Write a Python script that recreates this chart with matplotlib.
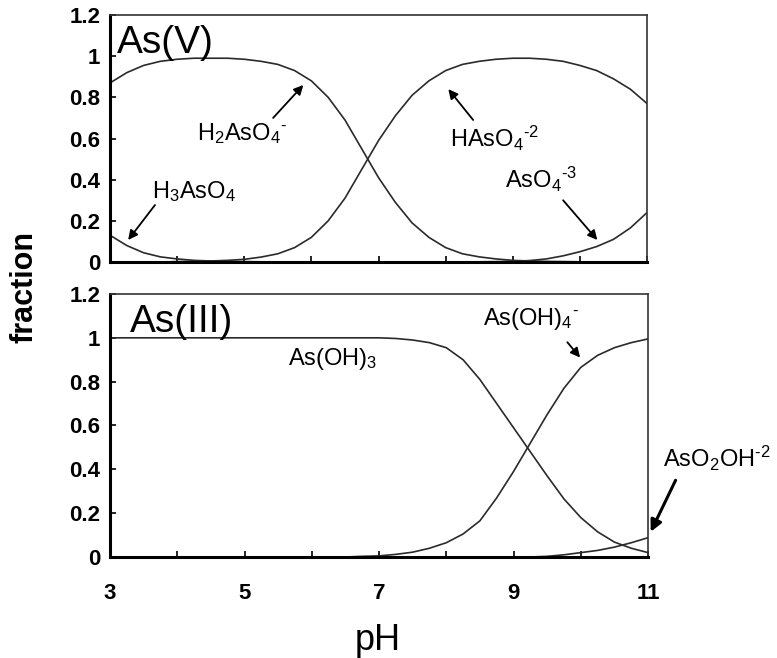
import matplotlib
matplotlib.use("Agg")
import matplotlib.pyplot as plt

plt.rcParams['font.family'] = ['Liberation Sans', 'DejaVu Sans']
plt.rcParams['mathtext.fontset'] = 'custom'
plt.rcParams['mathtext.rm'] = 'Liberation Sans'
plt.rcParams['mathtext.it'] = 'Liberation Sans:italic'
plt.rcParams['mathtext.default'] = 'rm'

# pH grid (every 0.25)
ph = [3.0, 3.25, 3.5, 3.75, 4.0, 4.25, 4.5, 4.75, 5.0, 5.25, 5.5, 5.75, 6.0,
      6.25, 6.5, 6.75, 7.0, 7.25, 7.5, 7.75, 8.0, 8.25, 8.5, 8.75, 9.0, 9.25,
      9.5, 9.75, 10.0, 10.25, 10.5, 10.75, 11.0]

# As(V) species
h3aso4 = [0.13, 0.08, 0.045, 0.025, 0.015, 0.008, 0.005, 0.003, 0.002, 0.001,
          0, 0, 0, 0, 0, 0, 0, 0, 0, 0, 0, 0, 0, 0, 0, 0, 0, 0, 0, 0, 0, 0, 0]
h2aso4 = [0.87, 0.92, 0.955, 0.975, 0.985, 0.99, 0.99, 0.99, 0.985, 0.975,
          0.96, 0.93, 0.88, 0.80, 0.69, 0.55, 0.41, 0.29, 0.19, 0.12, 0.07,
          0.04, 0.025, 0.015, 0.008, 0.005, 0.003, 0.002, 0.001, 0, 0, 0, 0]
haso4 = [0, 0, 0, 0, 0.002, 0.003, 0.005, 0.008, 0.013, 0.024, 0.04, 0.07,
         0.12, 0.20, 0.31, 0.45, 0.59, 0.71, 0.81, 0.88, 0.93, 0.96, 0.975,
         0.985, 0.99, 0.99, 0.985, 0.975, 0.955, 0.93, 0.89, 0.84, 0.77]
aso4 = [0, 0, 0, 0, 0, 0, 0, 0, 0, 0, 0, 0, 0, 0, 0, 0, 0, 0, 0, 0, 0, 0,
        0.001, 0.002, 0.003, 0.007, 0.015, 0.03, 0.05, 0.075, 0.11, 0.165, 0.24]

# As(III) species
as_oh3 = [1.0, 1.0, 1.0, 1.0, 1.0, 1.0, 1.0, 1.0, 1.0, 1.0, 1.0, 1.0, 1.0,
          1.0, 1.0, 1.0, 1.0, 0.997, 0.99, 0.978, 0.955, 0.90, 0.81, 0.70,
          0.59, 0.48, 0.37, 0.265, 0.18, 0.115, 0.068, 0.04, 0.02]
as_oh4 = [0, 0, 0, 0, 0, 0, 0, 0, 0, 0, 0, 0, 0, 0, 0, 0.003, 0.005, 0.012,
          0.022, 0.04, 0.065, 0.105, 0.165, 0.27, 0.39, 0.52, 0.65, 0.77, 0.865,
          0.92, 0.955, 0.978, 0.995]
aso2oh = [0, 0, 0, 0, 0, 0, 0, 0, 0, 0, 0, 0, 0, 0, 0, 0, 0, 0, 0, 0, 0, 0,
          0, 0, 0, 0, 0.003, 0.01, 0.02, 0.03, 0.045, 0.065, 0.088]

yticks = [0, 0.2, 0.4, 0.6, 0.8, 1.0, 1.2]
ytick_labels = ['0', '0.2', '0.4', '0.6', '0.8', '1', '1.2']
xticks = [3, 5, 7, 9, 11]

fig = plt.figure(figsize=(7.77, 6.58), dpi=100)
ax1 = fig.add_axes([0.1416, 0.6018, 0.6911, 0.3754])
ax2 = fig.add_axes([0.1416, 0.1535, 0.6924, 0.3997])

lc = '#2a2a2a'
arrow = dict(arrowstyle='-|>', color='k', lw=1.3, mutation_scale=14,
             shrinkA=0, shrinkB=0)

for ax in (ax1, ax2):
    ax.set_xlim(3, 11)
    ax.set_ylim(0, 1.2)
    ax.set_yticks(yticks)
    ax.set_yticklabels(ytick_labels)
    ax.set_xticks(xticks)
    ax.set_xticks([4, 6, 8, 10], minor=True)
    ax.tick_params(axis='both', which='both', direction='in', length=4,
                   width=1.2, labelsize=16)
    ax.tick_params(axis='x', pad=19)
    ax.tick_params(axis='y', pad=7)
    for lab in ax.get_xticklabels() + ax.get_yticklabels():
        lab.set_fontweight('bold')
    for side in ('left', 'bottom'):
        ax.spines[side].set_linewidth(2.2)
    for side in ('top', 'right'):
        ax.spines[side].set_linewidth(1.2)
        ax.spines[side].set_color('#333333')

ax1.tick_params(axis='x', labelbottom=False)

# As(V) panel
for s in (h3aso4, h2aso4, haso4, aso4):
    ax1.plot(ph, s, color=lc, lw=1.2)
ax1.text(3.1, 1.015, 'As(V)', fontsize=28, ha='left', va='baseline')
ax1.text(4.3, 0.59, r'H$_2$AsO$_4$$^{\text{-}}$', fontsize=17, va='baseline')
ax1.annotate('', xy=(5.88, 0.86), xytext=(5.43, 0.70), arrowprops=arrow)
ax1.text(3.63, 0.31, r'H$_3$AsO$_4$', fontsize=17, va='baseline')
ax1.annotate('', xy=(3.27, 0.107), xytext=(3.67, 0.277), arrowprops=arrow)
ax1.text(8.07, 0.56, r'HAsO$_4$$^{\text{-2}}$', fontsize=17, va='baseline')
ax1.annotate('', xy=(8.04, 0.84), xytext=(8.41, 0.69), arrowprops=arrow)
ax1.text(8.89, 0.36, r'AsO$_4$$^{\text{-3}}$', fontsize=17, va='baseline')
ax1.annotate('', xy=(10.26, 0.107), xytext=(9.75, 0.30), arrowprops=arrow)

# As(III) panel
for s in (as_oh3, as_oh4, aso2oh):
    ax2.plot(ph, s, color=lc, lw=1.2)
ax2.text(3.3, 1.027, 'As(III)', fontsize=28, ha='left', va='baseline')
ax2.text(5.65, 0.876, r'As(OH)$_3$', fontsize=17, va='baseline')
ax2.text(8.54, 1.058, r'As(OH)$_4$$^{\text{-}}$', fontsize=17, va='baseline')
ax2.annotate('', xy=(9.99, 0.91), xytext=(9.80, 0.98), arrowprops=arrow)
ax2.text(11.23, 0.41, r'AsO$_2$OH$^{\text{-2}}$', fontsize=17, va='baseline',
         clip_on=False)
ax2.annotate('', xy=(11.04, 0.115), xytext=(11.41, 0.35), annotation_clip=False,
             arrowprops=dict(arrowstyle='-|>', color='k', lw=2.2,
                             mutation_scale=17, shrinkA=0, shrinkB=0))

fig.text(0.032, 1 - 287 / 658, 'fraction', rotation=90, fontsize=22,
         fontweight='bold', ha='center', va='center')
fig.text(378 / 777, 0.012, 'pH', fontsize=26, ha='center', va='baseline')

fig.savefig('out.png', dpi=100)
